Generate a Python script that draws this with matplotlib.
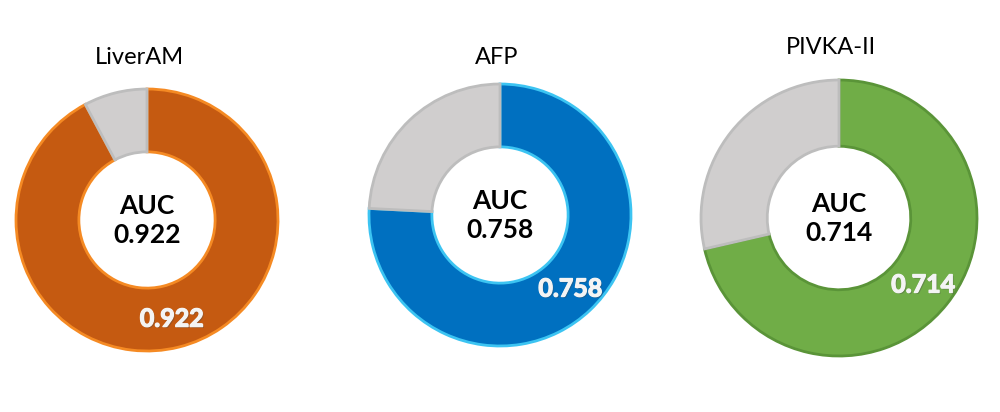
import matplotlib
matplotlib.use("Agg")
import matplotlib.pyplot as plt
import matplotlib.patheffects as pe

titles = ["LiverAM", "AFP", "PIVKA-II"]
auc = [0.922, 0.758, 0.714]
face_colors = ["#C55A11", "#0070C0", "#70AD47"]
edge_colors = ["#F58A23", "#3CC4F2", "#5A9438"]
rest_color = "#D0CECE"
rest_edge = "#BDBDBD"

# layout (pixel space, y up)
centers = [(147, 192), (500, 197), (839, 194)]
radii = [131, 131, 138]
title_y = [355, 355, 365]
hole_frac = 0.52

plt.rcParams['font.family'] = ['Lato', 'DejaVu Sans']
fig = plt.figure(figsize=(10, 4.12), dpi=100)
ax = fig.add_axes([0, 0, 1, 1])
ax.set_xlim(0, 1000)
ax.set_ylim(0, 412)
ax.set_aspect('equal')
ax.axis('off')

for i in range(3):
    cx, cy = centers[i]
    r = radii[i]
    vals = [auc[i], 1 - auc[i]]
    wedges, texts = ax.pie(
        vals, center=(cx, cy), radius=r, startangle=90, counterclock=False,
        colors=[face_colors[i], rest_color],
        labels=[f"{auc[i]:.3f}", ""], labeldistance=0.78,
        wedgeprops=dict(width=r * (1 - hole_frac), linewidth=2.0),
        frame=True)
    wedges[0].set_edgecolor(edge_colors[i])
    wedges[1].set_edgecolor(rest_edge)
    wedges[1].set_linewidth(2)
    for t in texts:
        t.set_horizontalalignment('center')
        t.set_verticalalignment('center')
        t.set_color("#F4F4F4")
        t.set_fontsize(18)
        t.set_fontweight('bold')
        t.set_path_effects([pe.withSimplePatchShadow(offset=(1, -1), alpha=0.35),
                            pe.Stroke(linewidth=0.9, foreground="#F4F4F4"),
                            pe.Normal()])
    ax.text(cx, cy, f"AUC\n{auc[i]:.3f}", ha='center', va='center',
            fontsize=19, fontweight='bold', color='black', linespacing=1.25)
    ax.text(cx - 8 if i != 1 else cx - 3, title_y[i], titles[i], ha='center',
            va='center', fontsize=17, color='black')

ax.set_xlim(0, 1000)
ax.set_ylim(0, 412)
ax.axis('off')
fig.savefig("out.png", dpi=100, facecolor='white')
